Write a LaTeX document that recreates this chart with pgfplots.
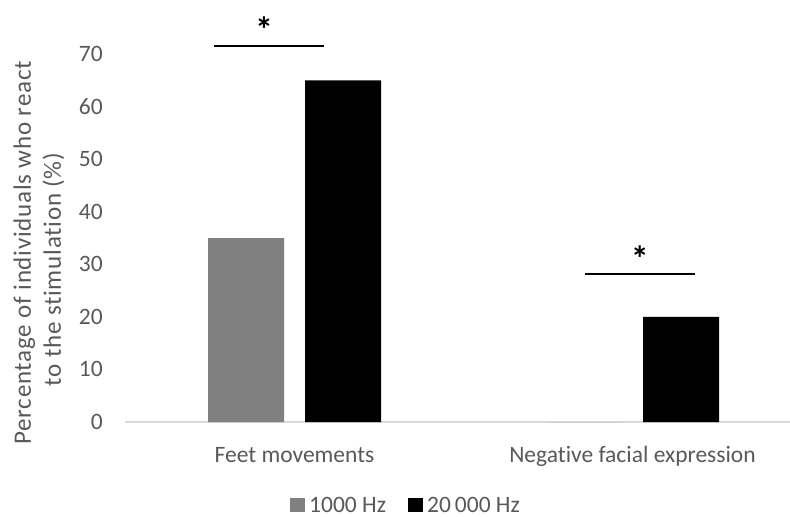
\documentclass[border=0pt]{standalone}
\usepackage{pgfplots}
\pgfplotsset{compat=1.18}
\usepackage{fontspec}
\setmainfont{Carlito}[Ligatures=NoCommon]
\definecolor{txt}{HTML}{595959}
\definecolor{grid}{HTML}{D9D9D9}
\definecolor{gbar}{HTML}{808080}
\begin{document}
\fontsize{23.5bp}{28bp}\selectfont
\begin{tikzpicture}
\useasboundingbox (-125bp,-95bp) rectangle (665bp,422bp);
\begin{axis}[
  at={(0,0)}, anchor=south west,
  scale only axis, width=665bp, height=368bp,
  xmin=-0.5015, xmax=1.466, ymin=0, ymax=70,
  ytick={0,10,...,70},
  xtick={0,1}, xticklabels={Feet movements, Negative facial expression},
  axis line style={draw=none},
  major tick length=0pt,
  tick label style={font=\fontsize{23.5bp}{28bp}\selectfont, color=txt},
  /pgf/number format/assume math mode=true,
  yticklabel style={anchor=east, inner sep=0pt, xshift=-22bp},
  xticklabel style={anchor=base, inner sep=0pt, yshift=-40bp},
  clip=false,
]
\draw[grid, line width=1.3bp] (axis cs:-0.5015,0) -- (axis cs:1.466,0);
\addplot[ybar, bar width=76bp, fill=gbar, draw=none, bar shift=-48.5bp] coordinates {(0,35) (1,0)};
\addplot[ybar, bar width=76bp, fill=black, draw=none, bar shift=48.5bp] coordinates {(0,65) (1,20)};
\addplot[black, line width=2bp, mark=none] coordinates {(-0.238,71.6) (0.087,71.6)};
\addplot[black, line width=2bp, mark=none] coordinates {(0.859,28.15) (1.185,28.15)};
\node[black, inner sep=0pt, font=\fontsize{36bp}{40bp}\selectfont\bfseries] at (axis cs:-0.09,74.66) {*};
\node[black, inner sep=0pt, font=\fontsize{36bp}{40bp}\selectfont\bfseries] at (axis cs:1.022,31.1) {*};
\end{axis}
\node[rotate=90, anchor=base, color=txt, inner sep=0pt, font=\fontsize{25bp}{30bp}\selectfont\addfontfeatures{LetterSpace=3}] at (-94bp,169bp) {Percentage of individuals who react};
\node[rotate=90, anchor=base, color=txt, inner sep=0pt, font=\fontsize{25bp}{30bp}\selectfont\addfontfeatures{LetterSpace=3}] at (-64bp,152.5bp) {to the stimulation (\%)};
\fill[gbar] (165bp,-90bp) rectangle (180bp,-75.7bp);
\node[anchor=base west, color=txt, inner sep=0pt] at (184bp,-90bp) {1000 Hz};
\fill[black] (283bp,-90bp) rectangle (298bp,-75.7bp);
\node[anchor=base west, color=txt, inner sep=0pt] at (302bp,-90bp) {20\,000 Hz};
\end{tikzpicture}
\end{document}
